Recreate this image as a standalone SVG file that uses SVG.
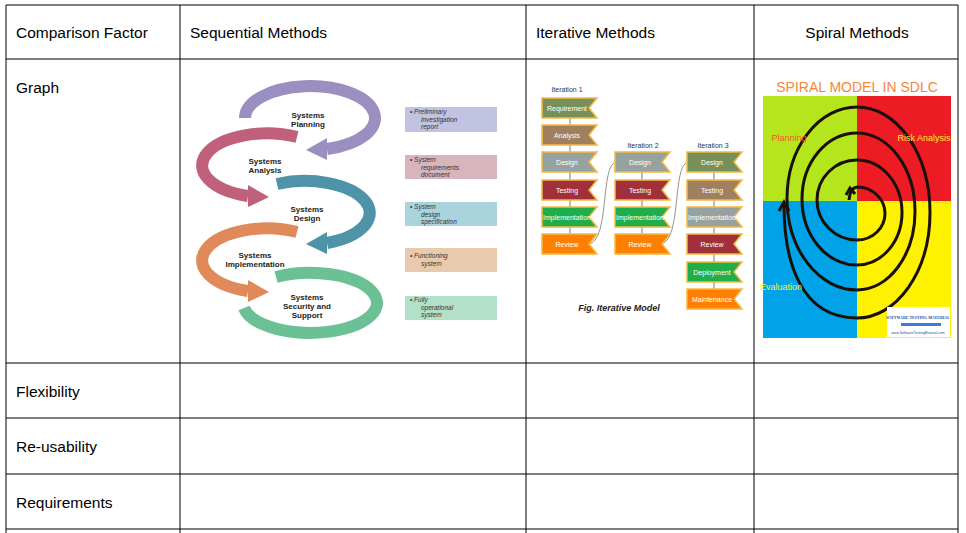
<svg xmlns="http://www.w3.org/2000/svg" width="966" height="533" viewBox="0 0 966 533">
<style>
.t{font-family:"Liberation Sans",Arial,sans-serif;font-size:15.5px;fill:#000}
.g{stroke:#000;stroke-width:1;fill:none}
.arc{fill:none;stroke-width:12}
.sl{font-family:"Liberation Sans",Arial,sans-serif;font-size:8px;font-weight:bold;fill:#222;text-anchor:middle}
.bx{font-family:"Liberation Sans",Arial,sans-serif;font-size:6.5px;font-style:italic;fill:#333}
.it{font-family:"Liberation Sans Narrow","Liberation Sans",sans-serif;font-size:7px;fill:#fff;text-anchor:middle}
.ib{stroke:#f5b942;stroke-width:1.5}
.il{font-family:"Liberation Sans",sans-serif;font-size:7px;fill:#333;text-anchor:middle}
.sp{fill:none;stroke:#1a1008;stroke-width:3}
.q{font-family:"Liberation Sans",sans-serif;font-size:9px;text-anchor:middle}
</style>
<rect width="966" height="533" fill="#fff"/>
<g id="table">
<path class="g" d="M6 5H958M6 59H958M6 363H958M6 418H958M6 474H958M6 529H958M6 5V533M180 5V533M526 5V533M754 5V533M958 5V533"/>
<text class="t" x="16" y="38">Comparison Factor</text>
<text class="t" x="190" y="38">Sequential Methods</text>
<text class="t" x="536" y="38">Iterative Methods</text>
<text class="t" x="857" y="38" text-anchor="middle">Spiral Methods</text>
<text class="t" x="16" y="93">Graph</text>
<text class="t" x="16" y="397">Flexibility</text>
<text class="t" x="16" y="452">Re-usability</text>
<text class="t" x="16" y="508">Requirements</text>
</g>
<g id="sequential">
<path class="arc" stroke="#9a8fc0" d="M245 118A65 32 0 1 1 327 149"/>
<polygon fill="#9a8fc0" points="327,138 327,160 306,150"/>
<path class="arc" stroke="#c0607a" d="M297 137A65 32 0 1 0 248 196"/>
<polygon fill="#c0607a" points="248,185 248,207 269,197"/>
<path class="arc" stroke="#4f93a8" d="M277 184A65 32 0 1 1 327 243"/>
<polygon fill="#4f93a8" points="327,232 327,254 306,244"/>
<path class="arc" stroke="#e0895a" d="M297 232A65 32 0 1 0 248 291"/>
<polygon fill="#e0895a" points="248,280 248,302 269,292"/>
<path class="arc" stroke="#6cc095" d="M276 277A67 30 0 1 1 244 308"/>
<text class="sl" x="308" y="118">Systems</text><text class="sl" x="308" y="127">Planning</text>
<text class="sl" x="265" y="164">Systems</text><text class="sl" x="265" y="173">Analysis</text>
<text class="sl" x="307" y="212">Systems</text><text class="sl" x="307" y="221">Design</text>
<text class="sl" x="255" y="258">Systems</text><text class="sl" x="255" y="267">Implementation</text>
<text class="sl" x="307" y="300">Systems</text><text class="sl" x="307" y="309">Security and</text><text class="sl" x="307" y="318">Support</text>
<rect x="405" y="107" width="92" height="25" fill="#c2c3e0"/>
<rect x="405" y="155" width="92" height="24" fill="#d8b5bd"/>
<rect x="405" y="202" width="92" height="24" fill="#a9d4de"/>
<rect x="405" y="248" width="92" height="24" fill="#e8cbae"/>
<rect x="405" y="296" width="92" height="24" fill="#b3e0c8"/>
<text class="bx" x="410" y="114">• Preliminary</text><text class="bx" x="421" y="121.5">investigation</text><text class="bx" x="421" y="129">report</text>
<text class="bx" x="410" y="162">• System</text><text class="bx" x="421" y="169.5">requirements</text><text class="bx" x="421" y="177">document</text>
<text class="bx" x="410" y="209">• System</text><text class="bx" x="421" y="216.5">design</text><text class="bx" x="421" y="224">specification</text>
<text class="bx" x="410" y="258">• Functioning</text><text class="bx" x="421" y="265.5">system</text>
<text class="bx" x="410" y="302">• Fully</text><text class="bx" x="421" y="309.5">operational</text><text class="bx" x="421" y="317">system</text>
</g>
<g id="iterative">
<defs><path id="fl" d="M0 0H55L47 10L55 20H0Z"/></defs>
<text class="il" x="567" y="92">Iteration 1</text>
<text class="il" x="643" y="148">Iteration 2</text>
<text class="il" x="713" y="148">Iteration 3</text>
<g stroke="#555" stroke-width="0.8"><path d="M570 118V125M570 145V152M570 172V180M570 200V207M570 227V234M642 172V180M642 200V207M642 227V234M714 172V180M714 200V207M714 227V234M714 254V262M714 282V289"/></g>
<path d="M589 244C610 240 600 165 616 162M661 244C682 240 672 165 688 162" fill="none" stroke="#777" stroke-width="0.8"/>
<use href="#fl" x="542" y="98" fill="#77905a" class="ib"/><text class="it" x="567" y="111">Requirement</text>
<use href="#fl" x="542" y="125" fill="#a0805e" class="ib"/><text class="it" x="567" y="138">Analysis</text>
<use href="#fl" x="542" y="152" fill="#95a2a0" class="ib"/><text class="it" x="567" y="165">Design</text>
<use href="#fl" x="542" y="180" fill="#a0303a" class="ib"/><text class="it" x="567" y="193">Testing</text>
<use href="#fl" x="542" y="207" fill="#1fae4a" class="ib"/><text class="it" x="567" y="220">Implementation</text>
<use href="#fl" x="542" y="234" fill="#ff8000" class="ib"/><text class="it" x="567" y="247">Review</text>
<use href="#fl" x="615" y="152" fill="#95a2a0" class="ib"/><text class="it" x="640" y="165">Design</text>
<use href="#fl" x="615" y="180" fill="#a0303a" class="ib"/><text class="it" x="640" y="193">Testing</text>
<use href="#fl" x="615" y="207" fill="#1fae4a" class="ib"/><text class="it" x="640" y="220">Implementation</text>
<use href="#fl" x="615" y="234" fill="#ff8000" class="ib"/><text class="it" x="640" y="247">Review</text>
<use href="#fl" x="687" y="152" fill="#77905a" class="ib"/><text class="it" x="712" y="165">Design</text>
<use href="#fl" x="687" y="180" fill="#a0805e" class="ib"/><text class="it" x="712" y="193">Testing</text>
<use href="#fl" x="687" y="207" fill="#95a2a0" class="ib"/><text class="it" x="712" y="220">Implementation</text>
<use href="#fl" x="687" y="234" fill="#a0303a" class="ib"/><text class="it" x="712" y="247">Review</text>
<use href="#fl" x="687" y="262" fill="#1fae4a" class="ib"/><text class="it" x="712" y="275">Deployment</text>
<use href="#fl" x="687" y="289" fill="#ff8000" class="ib"/><text class="it" x="712" y="302">Maintenance</text>
<text x="619" y="311" font-family="Liberation Sans Narrow,Liberation Sans,sans-serif" font-size="9" font-style="italic" font-weight="bold" text-anchor="middle" fill="#222">Fig. Iterative Model</text>
</g>
<g id="spiral">
<text x="857" y="92" font-family="Liberation Sans,sans-serif" font-size="14" fill="#f7853a" text-anchor="middle">SPIRAL MODEL IN SDLC</text>
<rect x="763" y="96" width="94" height="105" fill="#b5e61d"/>
<rect x="857" y="96" width="94" height="105" fill="#ed1c24"/>
<rect x="763" y="201" width="94" height="137" fill="#00a2e8"/>
<rect x="857" y="201" width="94" height="137" fill="#fff200"/>
<path class="sp" d="M849 200Q850 188 857 187A28 26.5 0 0 1 857 240A40 40 0 0 1 857 160A45 52.5 0 0 1 857 265A55 66 0 0 1 857 133A58 78.5 0 0 1 857 290A70 91.5 0 0 1 857 107A73 105.5 0 0 1 857 318C800 318 784 260 784 205"/>
<path class="sp" d="M779 211L784 202L789 211M846 195L850 188L855 194"/>
<text class="q" x="789" y="141" fill="#f05a28">Planning</text>
<text class="q" x="924" y="141" fill="#ffee33">Risk Analysis</text>
<text class="q" x="781" y="290" fill="#ffee33">Evaluation</text>
<text class="q" x="921" y="314" fill="#f05a28">Design</text>
<rect x="887" y="307" width="63" height="30" fill="#fff"/>
<text x="918" y="319" font-family="Liberation Serif,serif" font-size="4" font-weight="bold" fill="#1a4fa0" text-anchor="middle">SOFTWARE TESTING MATERIAL</text>
<rect x="901" y="323" width="40" height="3" fill="#3b7dd8"/>
<text x="918" y="334" font-family="Liberation Sans,sans-serif" font-size="3.5" fill="#1a4fa0" text-anchor="middle">www.SoftwareTestingMaterial.com</text>
</g>
</svg>
